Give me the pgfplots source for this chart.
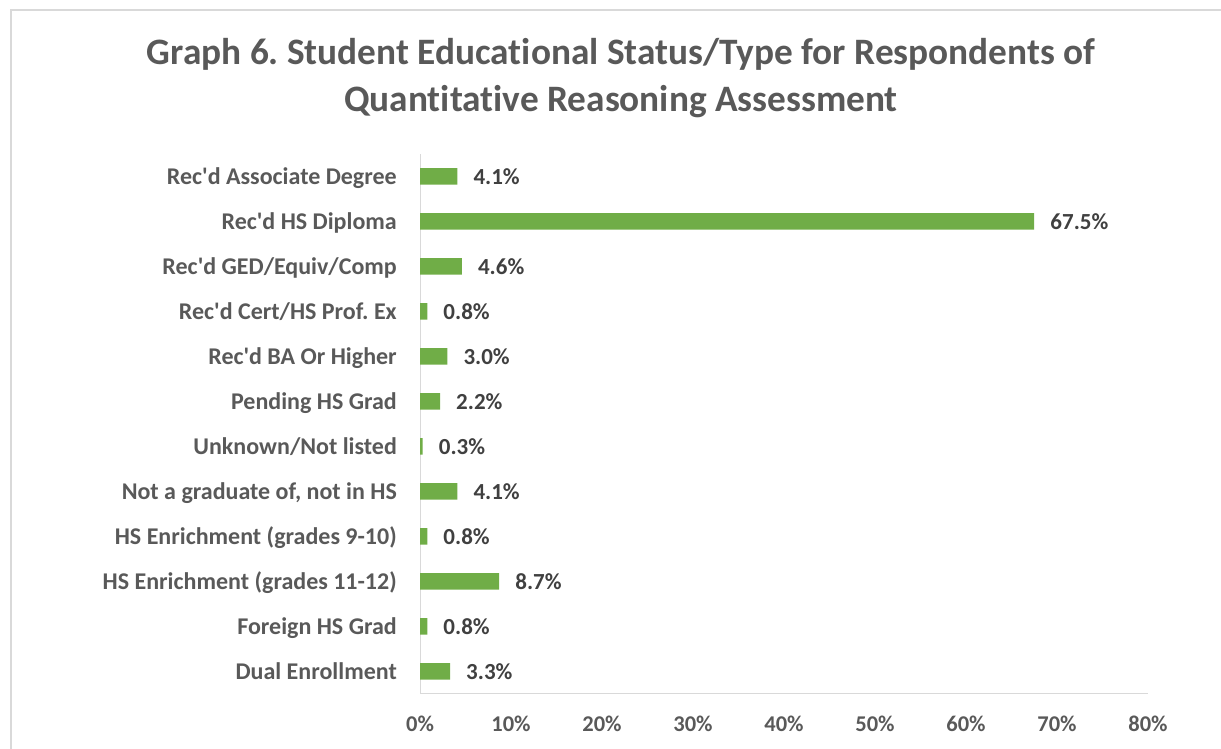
\documentclass[border=0pt]{standalone}
\usepackage{fontspec}
\setmainfont{Carlito}[Ligatures={NoCommon,TeXOff}]
\usepackage{pgfplots}
\pgfplotsset{compat=1.18}
\definecolor{bargreen}{HTML}{70AD47}
\definecolor{txtgray}{HTML}{595959}
\definecolor{valgray}{HTML}{404040}
\definecolor{linegray}{HTML}{D9D9D9}
\frenchspacing
\begin{document}
\begin{tikzpicture}[x=1pt,y=1pt]
\path[use as bounding box] (0,0) rectangle (1221,749);
\draw[linegray, line width=1.3pt] (11,0) -- (11,739) -- (1221,739);
\node[anchor=base, text=txtgray, font=\fontsize{37.3}{44}\selectfont\bfseries] at (621,684) {Graph 6. Student Educational Status/Type for Respondents of};
\node[anchor=base, text=txtgray, font=\fontsize{37.3}{44}\selectfont\bfseries] at (621,637) {Quantitative Reasoning Assessment};
\begin{axis}[
  at={(420pt,55pt)}, anchor=south west,
  scale only axis, width=728pt, height=540pt,
  xbar, bar width=16.5pt,
  xmin=0, xmax=80, ymin=-0.5, ymax=11.5,
  axis x line*=bottom, axis y line*=left,
  axis line style={linegray, line width=1pt},
  major tick length=0pt,
  xtick={0,10,...,80},
  xticklabels={0\%,10\%,20\%,30\%,40\%,50\%,60\%,70\%,80\%},
  xticklabel style={anchor=base, yshift=-38pt, inner sep=0pt, text=txtgray, font=\fontsize{22.5}{26}\selectfont\bfseries},
  ytick={0,...,11},
  yticklabels={Dual Enrollment, Foreign HS Grad, HS Enrichment (grades 11-12), HS Enrichment (grades 9-10), {Not a graduate of, not in HS}, Unknown/Not listed, Pending HS Grad, Rec'd BA Or Higher, Rec'd Cert/HS Prof. Ex, Rec'd GED/Equiv/Comp, Rec'd HS Diploma, Rec'd Associate Degree},
  yticklabel style={anchor=base east, yshift=-8pt, xshift=-23pt, inner sep=0pt, text=txtgray, font=\fontsize{24}{28}\selectfont\bfseries},
  point meta=x,
  nodes near coords={\pgfmathprintnumber[fixed,fixed zerofill,precision=1,assume math mode=true]{\pgfplotspointmeta}\%},
  nodes near coords style={anchor=base west, xshift=16pt, yshift=-8pt, inner sep=0pt, text=valgray, font=\fontsize{23}{27}\selectfont\bfseries},
]
\addplot[fill=bargreen, draw=none] coordinates {
 (3.3,0) (0.8,1) (8.7,2) (0.8,3) (4.1,4) (0.3,5) (2.2,6) (3.0,7) (0.8,8) (4.6,9) (67.5,10) (4.1,11)
};
\end{axis}
\end{tikzpicture}
\end{document}
